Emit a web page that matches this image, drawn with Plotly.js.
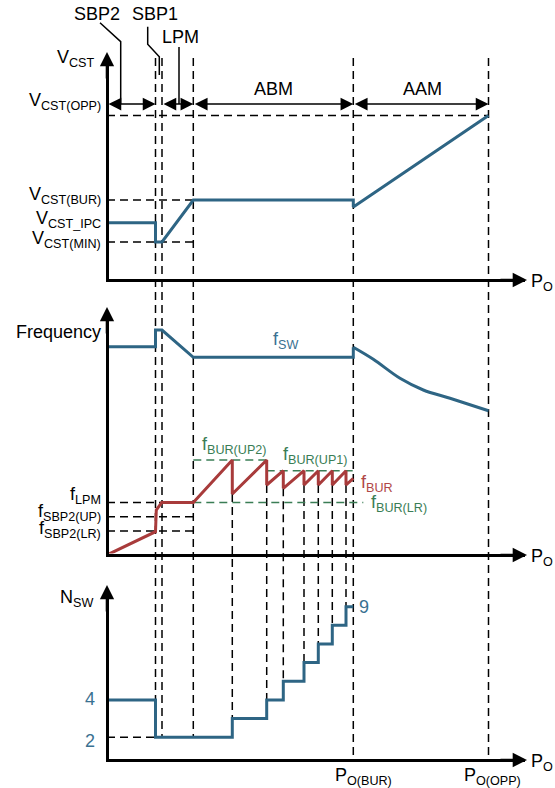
<!DOCTYPE html>
<html>
<head>
<meta charset="utf-8">
<script src="https://cdn.plot.ly/plotly-3.0.1.min.js"></script>
<style>html,body{margin:0;padding:0;background:#fff;}</style>
</head>
<body>
<div id="chart" style="width:555px;height:788px;"></div>
<script>
//data (Po in arbitrary units)
const poBounds = [48.5, 55, 86.3, 246.3, 381.5];               // SBP2 | SBP1 | LPM | BUR | OPP
const poSteps = [125.3, 159.7, 176.3, 197, 211.3, 225.3, 239];  // where N_SW goes up by one

const vcstX = [0, 48.5, 48.5, 55, 86.3, 246.3, 246.3, 381.5];
const vcstY = [57.3, 57.3, 38, 38, 80, 80, 73, 164.5];
const vcstLevels = [164.5, 80, 57.3, 38];
const vcstNames = ['V<sub>CST(OPP)</sub>', 'V<sub>CST(BUR)</sub>', 'V<sub>CST_IPC</sub>', 'V<sub>CST(MIN)</sub>'];
const vcstShift = [14, 4, 3.5, 2];

const fswX = [0, 48.5, 48.5, 55, 86.3, 246.3, 246.3];
const fswY = [208.3, 208.3, 225, 225, 197.7, 197.7, 207.7];
const fswAamX = [246.3, 266.3, 293, 316.3, 343, 381.5];
const fswAamY = [207.7, 195.7, 176.7, 165, 156.7, 144.3];

const fburX = [0, 48.5, 49.3, 54.7, 86.3, 125.3, 125.3, 159.7, 159.7, 176.3, 176.3,
               197, 197, 211.3, 211.3, 225.3, 225.3, 239, 239, 246.3];
const fburY = [0, 23.3, 45, 52.5, 52.5, 95, 61, 95, 70, 84.3, 66.7,
               84.3, 70, 84.3, 70, 84.3, 70, 84.3, 70, 76.7];
const fLevels = [52.5, 38.3, 24];
const fNames = ['f<sub>LPM</sub>', 'f<sub>SBP2(UP)</sub>', 'f<sub>SBP2(LR)</sub>'];
const fShift = [7, 4.5, 2];
const fBurUp2 = 95, fBurUp1 = 84.3, fBurLr = 52.5;

const nswX = [0, 48.5, 125.3, 159.7, 176.3, 197, 211.3, 225.3, 239, 246.3];
const nswY = [4, 2, 3, 4, 5, 6, 7, 8, 9, 9];
const nswTicks = [4, 2];

//colors
const blue = '#2e6584', blueText = '#3a7191';
const red = '#a83b3b', redText = '#b04747';
const green = '#3a7d55';
const font = 'Liberation Sans, Arial, sans-serif';

//page geometry helpers (pixels -> paper)
const W = 555, H = 788;
const px = v => v / W;
const py = v => 1 - v / H;

const xDomain = [px(108.5), px(525)];
const xRange = [1.5, 418];
const panels = {
    y:  {domain: [py(278.5), py(62)],  range: [1.5, 218]},
    y2: {domain: [py(553.5), py(318)], range: [1.5, 237]},
    y3: {domain: [py(758.5), py(596)], range: [0.86, 9.57]}
};
function yPaper(ax, v) {
    const p = panels[ax];
    return p.domain[0] + (v - p.range[0]) / (p.range[1] - p.range[0]) * (p.domain[1] - p.domain[0]);
}

//traces
const traces = [
    {x: vcstX, y: vcstY, xaxis: 'x', yaxis: 'y', mode: 'lines', line: {color: blue, width: 3}},
    {x: fswX, y: fswY, xaxis: 'x2', yaxis: 'y2', mode: 'lines', line: {color: blue, width: 3}},
    {x: fswAamX, y: fswAamY, xaxis: 'x2', yaxis: 'y2', mode: 'lines',
        line: {color: blue, width: 3, shape: 'spline', smoothing: 1}},
    {x: fburX, y: fburY, xaxis: 'x2', yaxis: 'y2', mode: 'lines', line: {color: red, width: 3}},
    {x: nswX, y: nswY, xaxis: 'x3', yaxis: 'y3', mode: 'lines', line: {color: blue, width: 3, shape: 'hv'}}
];

//shapes: guide lines
const dash = '8px,5px';
const shapes = [];
function hGuide(xa, ya, x0, x1, y, color) {
    shapes.push({type: 'line', xref: xa, yref: ya, x0: x0, x1: x1, y0: y, y1: y,
        layer: 'below', line: {color: color || '#000', width: 1.5, dash: dash}});
}
function vGuide(x, p0, p1) {
    shapes.push({type: 'line', xref: 'x', yref: 'paper', x0: x, x1: x, y0: p0, y1: p1,
        layer: 'below', line: {color: '#000', width: 1.5, dash: dash}});
}

const guideTop = py(58);
poBounds.slice(0, 3).forEach(x => vGuide(x, guideTop, yPaper('y3', 2)));
poBounds.slice(3).forEach(x => vGuide(x, guideTop, py(760)));
poSteps.forEach(x => {
    const fLow = fburY[fburX.lastIndexOf(x)];
    const n = nswY[nswX.indexOf(x)];
    vGuide(x, yPaper('y2', fLow), yPaper('y3', n));
});

hGuide('x', 'y', 0, poBounds[4], vcstLevels[0]);
hGuide('x', 'y', 0, poBounds[2], vcstLevels[1]);
hGuide('x', 'y', 0, poBounds[2], vcstLevels[3]);
fLevels.forEach(f => hGuide('x2', 'y2', 0, poBounds[2], f));
hGuide('x2', 'y2', poBounds[2], poSteps[1], fBurUp2, green);
hGuide('x2', 'y2', poSteps[1], poBounds[3], fBurUp1, green);
hGuide('x2', 'y2', poBounds[2], 256.3, fBurLr, green);
hGuide('x3', 'y3', 0, poBounds[0], 2);

//leader lines for the mode names
function leader(pts) {
    shapes.push({type: 'path', xref: 'paper', yref: 'paper',
        path: pts.map((p, i) => (i ? 'L' : 'M') + px(p[0]) + ',' + py(p[1])).join(' '),
        line: {color: '#000', width: 1.5}});
}
leader([[100, 22.7], [120.7, 41.7], [120.7, 104]]);
leader([[147.7, 26.7], [147.7, 44.3], [159.3, 56.7], [159.3, 75]]);
leader([[179, 47], [179, 104]]);

//annotations
const annotations = [];
function label(text, x, y, opts) {
    annotations.push(Object.assign({text: text, xref: 'paper', yref: 'paper', x: px(x), y: py(y),
        showarrow: false, xanchor: 'center', yanchor: 'middle',
        font: {family: font, size: 18, color: '#000'}}, opts || {}));
}

// mode arrows (double headed)
const modeSpans = [[0, poBounds[0]], [poBounds[1], poBounds[2]], [poBounds[2], poBounds[3]], [poBounds[3], poBounds[4]]];
modeSpans.forEach(s => annotations.push({
    xref: 'x', yref: 'y', axref: 'x', ayref: 'y', x: s[1], y: 176, ax: s[0], ay: 176,
    text: '', showarrow: true, arrowhead: 2, arrowside: 'end+start', arrowsize: 1.7,
    arrowwidth: 1.5, arrowcolor: '#000', standoff: 0, startstandoff: 0
}));

// axis arrow heads
[52, 307, 585].forEach(t => annotations.push({xref: 'paper', yref: 'paper', x: px(107), y: py(t),
    ax: 0, ay: 28, text: '', showarrow: true, arrowhead: 2, arrowsize: 1.1, arrowwidth: 2.6, arrowcolor: '#000'}));
[280, 555, 760].forEach(t => annotations.push({xref: 'paper', yref: 'paper', x: px(527), y: py(t),
    ax: -28, ay: 0, text: '', showarrow: true, arrowhead: 2, arrowsize: 1.1, arrowwidth: 2.6, arrowcolor: '#000'}));

// axis names
label('V<sub>CST</sub>', 97, 59, {xanchor: 'right'});
label('Frequency', 103, 332, {xanchor: 'right'});
label('N<sub>SW</sub>', 95, 598, {xanchor: 'right'});
[282, 557, 762].forEach(t => label('P<sub>O</sub>', 529, t, {xanchor: 'left'}));

// left level labels tied to their values
vcstLevels.forEach((v, i) => annotations.push({text: vcstNames[i], xref: 'paper', yref: 'y', x: px(102.5), y: v,
    yshift: vcstShift[i], xanchor: 'right', yanchor: 'middle', showarrow: false, font: {family: font, size: 18, color: '#000'}}));
fLevels.forEach((v, i) => annotations.push({text: fNames[i], xref: 'paper', yref: 'y2', x: px(103), y: v,
    yshift: fShift[i], xanchor: 'right', yanchor: 'middle', showarrow: false, font: {family: font, size: 18, color: '#000'}}));
nswTicks.forEach(n => annotations.push({text: String(n), xref: 'paper', yref: 'y3', x: px(97), y: n,
    yshift: n === 2 ? -3.5 : 0.5, xanchor: 'right', yanchor: 'middle', showarrow: false,
    font: {family: font, size: 18, color: blueText}}));
annotations.push({text: String(nswY[nswY.length - 1]), xref: 'paper', yref: 'y3', x: px(357), y: nswY[nswY.length - 1],
    xanchor: 'left', yanchor: 'middle', showarrow: false, font: {family: font, size: 18, color: blueText}});

// mode names
label('SBP2', 97, 14);
label('SBP1', 155, 14);
label('LPM', 180, 37.5);
label('ABM', 273, 89);
label('AAM', 422.7, 89);

// curve names
label('f<sub>SW</sub>', 285, 340, {font: {family: font, size: 18, color: blueText}});
label('f<sub>BUR(UP2)</sub>', 234, 445, {font: {family: font, size: 18, color: green}});
label('f<sub>BUR(UP1)</sub>', 315, 455.5, {font: {family: font, size: 18, color: green}});
label('f<sub>BUR</sub>', 377, 483, {font: {family: font, size: 18, color: redText}});
label('f<sub>BUR(LR)</sub>', 399, 503, {font: {family: font, size: 18, color: green}});

// power marks on bottom axis
label('P<sub>O(BUR)</sub>', 363, 776);
label('P<sub>O(OPP)</sub>', 492, 776);

//axes
function xAxis(anchor) {
    return {domain: xDomain, range: xRange, anchor: anchor, showline: true, linewidth: 3, linecolor: '#000',
        showgrid: false, zeroline: false, showticklabels: false, ticks: '', fixedrange: true};
}
function yAxis(key, anchor) {
    return {domain: panels[key].domain, range: panels[key].range, anchor: anchor, showline: true, linewidth: 3,
        linecolor: '#000', showgrid: false, zeroline: false, showticklabels: false, ticks: '', fixedrange: true};
}

const layout = {
    width: W, height: H,
    margin: {l: 0, r: 0, t: 0, b: 0},
    paper_bgcolor: '#fff', plot_bgcolor: 'rgba(0,0,0,0)',
    showlegend: false,
    font: {family: font, size: 18, color: '#000'},
    xaxis: xAxis('y'), xaxis2: xAxis('y2'), xaxis3: xAxis('y3'),
    yaxis: yAxis('y', 'x'), yaxis2: yAxis('y2', 'x2'), yaxis3: yAxis('y3', 'x3'),
    shapes: shapes,
    annotations: annotations
};

Plotly.newPlot('chart', traces, layout, {staticPlot: true, displayModeBar: false});
</script>
</body>
</html>
